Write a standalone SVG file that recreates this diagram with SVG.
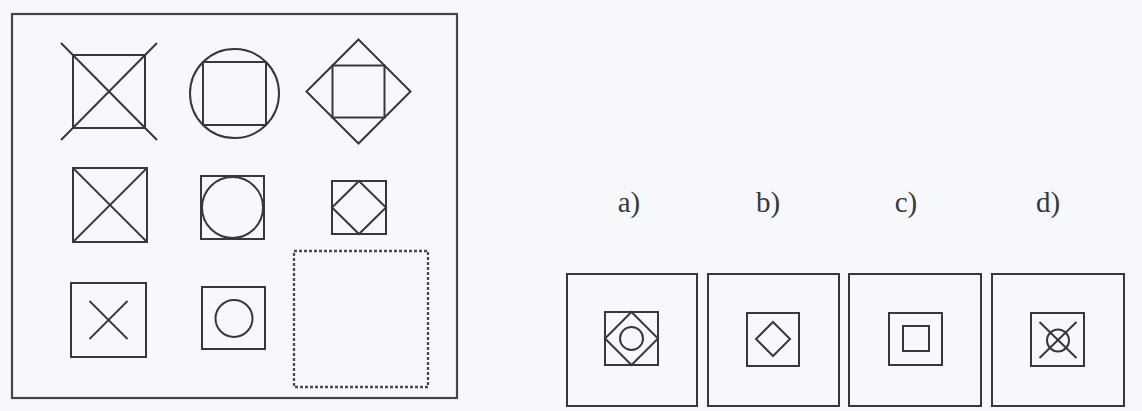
<svg xmlns="http://www.w3.org/2000/svg" width="1142" height="411" viewBox="0 0 1142 411">
  <style>
    .s { fill: none; stroke: #38383c; stroke-width: 2; }
    .t { stroke-width: 1.8; }
    .frame { fill: none; stroke: #45454a; stroke-width: 2.2; }
    .dash { fill: none; stroke: #4a4a4e; stroke-width: 2.3; stroke-dasharray: 3 2; }
    .lbl { font-family: "Liberation Serif", "DejaVu Serif", serif; font-size: 29px; fill: #38383c; text-anchor: middle; }
  </style>
  <rect x="0" y="0" width="1142" height="411" fill="#f7f8fc"/>

  <g id="panel">
    <rect class="frame" x="12" y="14" width="445" height="384"/>
  </g>

  <g id="r1c1">
    <rect class="s" x="73" y="55" width="72" height="73"/>
    <line class="s" x1="61" y1="43" x2="157" y2="140"/>
    <line class="s" x1="157" y1="43" x2="61" y2="140"/>
  </g>
  <g id="r1c2">
    <circle class="s" cx="234.5" cy="93.5" r="44.5"/>
    <rect class="s" x="203" y="62" width="63" height="63"/>
  </g>
  <g id="r1c3">
    <polygon class="s" points="358.5,39.5 410.5,91.5 358.5,143.5 306.5,91.5"/>
    <rect class="s" x="332.5" y="65.5" width="52" height="52"/>
  </g>

  <g id="r2c1">
    <rect class="s" x="73" y="168" width="74" height="74"/>
    <line class="s t" x1="73" y1="168" x2="147" y2="242"/>
    <line class="s t" x1="147" y1="168" x2="73" y2="242"/>
  </g>
  <g id="r2c2">
    <rect class="s" x="201" y="176" width="63" height="63"/>
    <circle class="s" cx="232.5" cy="207.5" r="30.5"/>
  </g>
  <g id="r2c3">
    <rect class="s" x="332" y="181" width="54" height="53"/>
    <polygon class="s" points="359,181 386,207.5 359,234 332,207.5"/>
  </g>

  <g id="r3c1">
    <rect class="s" x="71" y="283" width="75" height="74"/>
    <line class="s t" x1="89.5" y1="301" x2="127.5" y2="339"/>
    <line class="s t" x1="127.5" y1="301" x2="89.5" y2="339"/>
  </g>
  <g id="r3c2">
    <rect class="s" x="202" y="287" width="63" height="62"/>
    <circle class="s" cx="234" cy="318.5" r="18.5"/>
  </g>
  <g id="r3c3">
    <rect class="dash" x="294" y="251" width="134" height="136"/>
  </g>

  <g id="optA">
    <text class="lbl" x="629" y="212">a)</text>
    <rect class="s" x="567" y="274" width="130" height="132"/>
    <rect class="s" x="605" y="312" width="53" height="53"/>
    <polygon class="s" points="631.5,312 658,338.5 631.5,365 605,338.5"/>
    <circle class="s" cx="631.5" cy="338.5" r="11.5"/>
  </g>
  <g id="optB">
    <text class="lbl" x="768" y="212">b)</text>
    <rect class="s" x="708" y="274" width="131" height="132"/>
    <rect class="s" x="747" y="313" width="52" height="53"/>
    <polygon class="s" points="773,322 790,339 773,356 756,339"/>
  </g>
  <g id="optC">
    <text class="lbl" x="906" y="212">c)</text>
    <rect class="s" x="849" y="274" width="132" height="132"/>
    <rect class="s" x="889" y="313" width="53" height="52"/>
    <rect class="s" x="903" y="326" width="26" height="25"/>
  </g>
  <g id="optD">
    <text class="lbl" x="1048" y="212">d)</text>
    <rect class="s" x="992" y="274" width="132" height="132"/>
    <rect class="s" x="1031" y="313" width="53" height="53"/>
    <circle class="s" cx="1058" cy="340.5" r="11"/>
    <line class="s" x1="1039.5" y1="322" x2="1076.5" y2="358"/>
    <line class="s" x1="1076.5" y1="322" x2="1039.5" y2="358"/>
  </g>

  <g id="connectors"></g>
</svg>
